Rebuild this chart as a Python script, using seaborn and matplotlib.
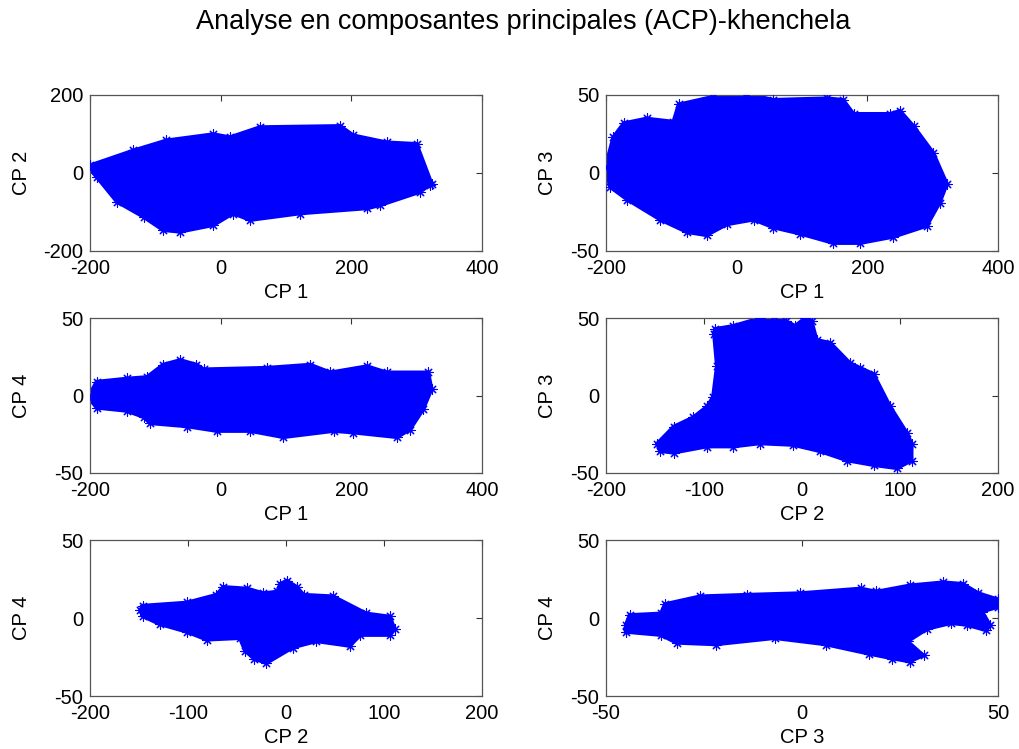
import matplotlib
matplotlib.use("Agg")
import matplotlib.pyplot as plt
import seaborn as sns
import pandas as pd

sns.set_style("white")
plt.rcParams['font.family'] = ['Liberation Sans', 'DejaVu Sans']
plt.rcParams['axes.unicode_minus'] = False
plt.rcParams['text.color'] = 'black'
plt.rcParams['axes.labelcolor'] = 'black'
plt.rcParams['xtick.color'] = 'black'
plt.rcParams['ytick.color'] = 'black'

# Outline (boundary) points of each point cloud
p1_x = [-200, -134, -83, -11, 14, 60, 183, 203, 254, 300, 323, 321, 305, 244, 224, 122, 45, 19, -11, -62, -88, -118, -159, -190, -202]
p1_y = [20, 58, 84, 100, 92, 118, 121, 97, 79, 75, -27, -30, -49, -83, -91, -104, -121, -104, -134, -151, -147, -113, -74, -10, 12]

p2_x = [-201, -189, -173, -138, -97, -89, -36, 15, 56, 138, 163, 179, 235, 250, 271, 301, 322, 311, 291, 240, 189, 148, 97, 56, 26, -15, -46, -76, -117, -168, -194]
p2_y = [4, 23, 32, 35, 33, 44, 49, 51, 47, 48, 47, 38, 38, 40, 30, 13, -7, -19, -34, -41, -45, -45, -39, -35, -30, -33, -40, -38, -30, -17, -9]

p3_x = [-203, -190, -144, -113, -88, -62, -37, -26, 71, 137, 168, 224, 254, 318, 323, 310, 290, 270, 203, 173, 96, 45, -6, -52, -108, -118, -144, -190]
p3_y = [-1, 9, 11, 12, 20, 23, 20, 17, 18, 20, 15, 19, 15, 15, 4, -9, -22, -27, -24, -23, -27, -23, -23, -20, -18, -14, -10, -8]

p4_x = [-89, -70, -43, -29, -16, -7, 3, 10, 15, 29, 49, 59, 73, 90, 107, 112, 112, 97, 73, 46, 18, -9, -43, -70, -97, -131, -145, -148, -131, -111, -97, -91, -87, -90]
p4_y = [43, 45, 50, 51, 48, 45, 50, 48, 36, 34, 21, 18, 14, -7, -24, -31, -42, -47, -45, -42, -36, -32, -31, -33, -33, -37, -36, -31, -20, -14, -7, -1, 19, 40]

p5_x = [-149, -146, -101, -71, -64, -40, -23, -9, -6, 1, 11, 18, 48, 82, 106, 111, 106, 76, 65, 31, 7, -20, -33, -42, -47, -81, -101, -129, -146]
p5_y = [5, 8, 10, 15, 20, 19, 16, 17, 22, 24, 20, 15, 14, 3, 1, -7, -11, -11, -18, -15, -19, -29, -26, -21, -13, -14, -9, -4, 1]

p6_x = [-45, -44, -36, -35, -26, -14, -0.5, 15, 19, 27.5, 36, 41, 45, 50, 50, 46, 48, 47, 42, 38, 32, 27, 31, 27.5, 23, 17, 6, -7, -22, -32, -36, -45]
p6_y = [-4.5, 2, 3, 9, 14, 15, 16, 19, 17, 21, 23, 22, 16, 12, 7, 4, -4.5, -8, -4.5, -3.4, -7, -15, -24, -28, -26, -23, -17, -13, -17, -16, -11, -9]

panels = [
    ("CP 1", "CP 2", p1_x, p1_y, (-200, 400), (-200, 200), [-200, 0, 200, 400], [-200, 0, 200]),
    ("CP 1", "CP 3", p2_x, p2_y, (-200, 400), (-50, 50), [-200, 0, 200, 400], [-50, 0, 50]),
    ("CP 1", "CP 4", p3_x, p3_y, (-200, 400), (-50, 50), [-200, 0, 200, 400], [-50, 0, 50]),
    ("CP 2", "CP 3", p4_x, p4_y, (-200, 200), (-50, 50), [-200, -100, 0, 100, 200], [-50, 0, 50]),
    ("CP 2", "CP 4", p5_x, p5_y, (-200, 200), (-50, 50), [-200, -100, 0, 100, 200], [-50, 0, 50]),
    ("CP 3", "CP 4", p6_x, p6_y, (-50, 50), (-50, 50), [-50, 0, 50], [-50, 0, 50]),
]

W, H = 1020, 749
fig = plt.figure(figsize=(W / 100, H / 100), dpi=100)

lefts = [90, 606]
rows = [(95, 251), (318, 473), (540, 696)]
width = 392
ylabel_right = [31, 557]

blue = "#0000ff"
for i, (xl, yl, xs, ys, xlim, ylim, xt, yt) in enumerate(panels):
    r, c = divmod(i, 2)
    top, bot = rows[r]
    hpx = bot - top
    ax = fig.add_axes([lefts[c] / W, 1 - bot / H, width / W, hpx / H])
    ax.fill(xs, ys, color=blue, edgecolor=blue, linewidth=2.5, zorder=2)
    df = pd.DataFrame({"x": xs, "y": ys})
    sns.scatterplot(data=df, x="x", y="y", ax=ax, marker=(8, 2, 0), s=45,
                    color=blue, linewidth=0.8, zorder=3, legend=False)
    ax.set_xlim(*xlim)
    ax.set_ylim(*ylim)
    ax.set_xticks(xt)
    ax.set_yticks(yt)
    ax.set_xlabel(xl, fontsize=14.5)
    ax.set_ylabel(yl, fontsize=14.5)
    ax.xaxis.set_label_coords(0.5, -32 / hpx)
    ax.yaxis.set_label_coords((ylabel_right[c] - lefts[c]) / width, 0.5)
    ax.tick_params(direction="in", top=True, right=True, length=4, width=0.8,
                   labelsize=14.5, color="#333333")
    ax.tick_params(axis="x", pad=6)
    ax.tick_params(axis="y", pad=5)
    for sp in ax.spines.values():
        sp.set_color("#555555")
        sp.set_linewidth(0.9)
        sp.set_visible(True)
    ax.set_facecolor("white")

fig.text(523 / W, 1 - 22 / H, "Analyse en composantes principales (ACP)-khenchela",
         ha="center", va="center", fontsize=19.5)

fig.savefig("out.png", dpi=100, facecolor="white")
